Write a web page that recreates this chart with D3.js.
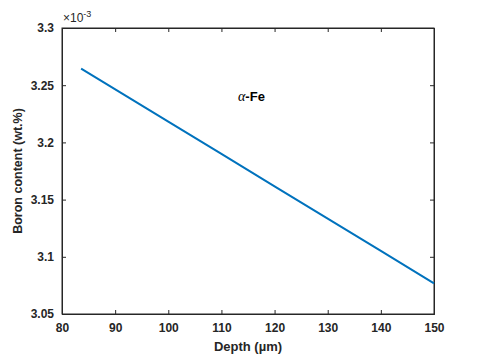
<!DOCTYPE html>
<html><head><meta charset="utf-8">
<script src="https://cdn.jsdelivr.net/npm/d3@7"></script>
<style>body{margin:0;background:#fff}svg{display:block}text{font-family:"Liberation Sans",Arial,sans-serif}</style>
</head><body>
<svg id="c" width="480" height="354"></svg>
<script>
const depth = [83.6, 100, 110, 120, 130, 140, 150];
const boron = [3.2644, 3.2181, 3.1899, 3.1616, 3.1334, 3.1051, 3.0768];
const xTicks = [80, 90, 100, 110, 120, 130, 140, 150];
const yTicks = [3.05, 3.1, 3.15, 3.2, 3.25, 3.3];

const svg = d3.select("#c");
const L = 62, R = 434, T = 28, B = 314;
const x = d3.scaleLinear().domain([80, 150]).range([L, R]);
const y = d3.scaleLinear().domain([3.05, 3.3]).range([B, T]);
const axCol = "#262626";

svg.append("rect").attr("x", L).attr("y", T).attr("width", R - L).attr("height", B - T)
  .attr("fill", "none").attr("stroke", axCol).attr("stroke-width", 1);

const fmtY = d => String(+d.toFixed(2));
const bx = svg.append("g").attr("transform", `translate(0,${B})`)
  .call(d3.axisBottom(x).tickValues(xTicks).tickSize(-4).tickPadding(9).tickFormat(d3.format("d")));
const tx = svg.append("g").attr("transform", `translate(0,${T})`)
  .call(d3.axisTop(x).tickValues(xTicks).tickSize(-4).tickFormat(""));
const ly = svg.append("g").attr("transform", `translate(${L},0)`)
  .call(d3.axisLeft(y).tickValues(yTicks).tickSize(-4).tickPadding(8).tickFormat(fmtY));
const ry = svg.append("g").attr("transform", `translate(${R},0)`)
  .call(d3.axisRight(y).tickValues(yTicks).tickSize(-4).tickFormat(""));
[bx, tx, ly, ry].forEach(g => {
  g.select(".domain").attr("stroke", axCol);
  g.selectAll(".tick line").attr("stroke", axCol);
  g.selectAll("text").attr("fill", axCol).style("font-size", "12px").style("font-weight", "bold")
    .style("font-family", "'Liberation Sans',Arial,sans-serif");
});

svg.append("path").datum(depth.map((d, i) => [d, boron[i]]))
  .attr("fill", "none").attr("stroke", "#0072BD").attr("stroke-width", 2)
  .attr("d", d3.line().x(d => x(d[0])).y(d => y(d[1])));

svg.append("text").attr("x", (L + R) / 2).attr("y", 351).attr("text-anchor", "middle")
  .attr("fill", axCol).style("font-size", "13px").style("font-weight", "bold").text("Depth (µm)");
svg.append("text").attr("transform", `translate(22,${(T + B) / 2}) rotate(-90)`).attr("text-anchor", "middle")
  .attr("fill", axCol).style("font-size", "12.5px").style("font-weight", "bold").text("Boron content (wt.%)");

const ex = svg.append("text").attr("x", 63).attr("y", 22).attr("fill", axCol).style("font-size", "12px");
ex.append("tspan").text("×10");
ex.append("tspan").attr("dy", -5).style("font-size", "9px").text("-3");

const an = svg.append("text").attr("x", 238).attr("y", 101).attr("fill", "#000").style("font-size", "13px");
an.append("tspan").style("font-family", "'Liberation Serif','Times New Roman',serif").style("font-style", "italic").style("font-size", "14px").text("α");
an.append("tspan").style("font-weight", "bold").text("-Fe");
</script>
</body></html>
